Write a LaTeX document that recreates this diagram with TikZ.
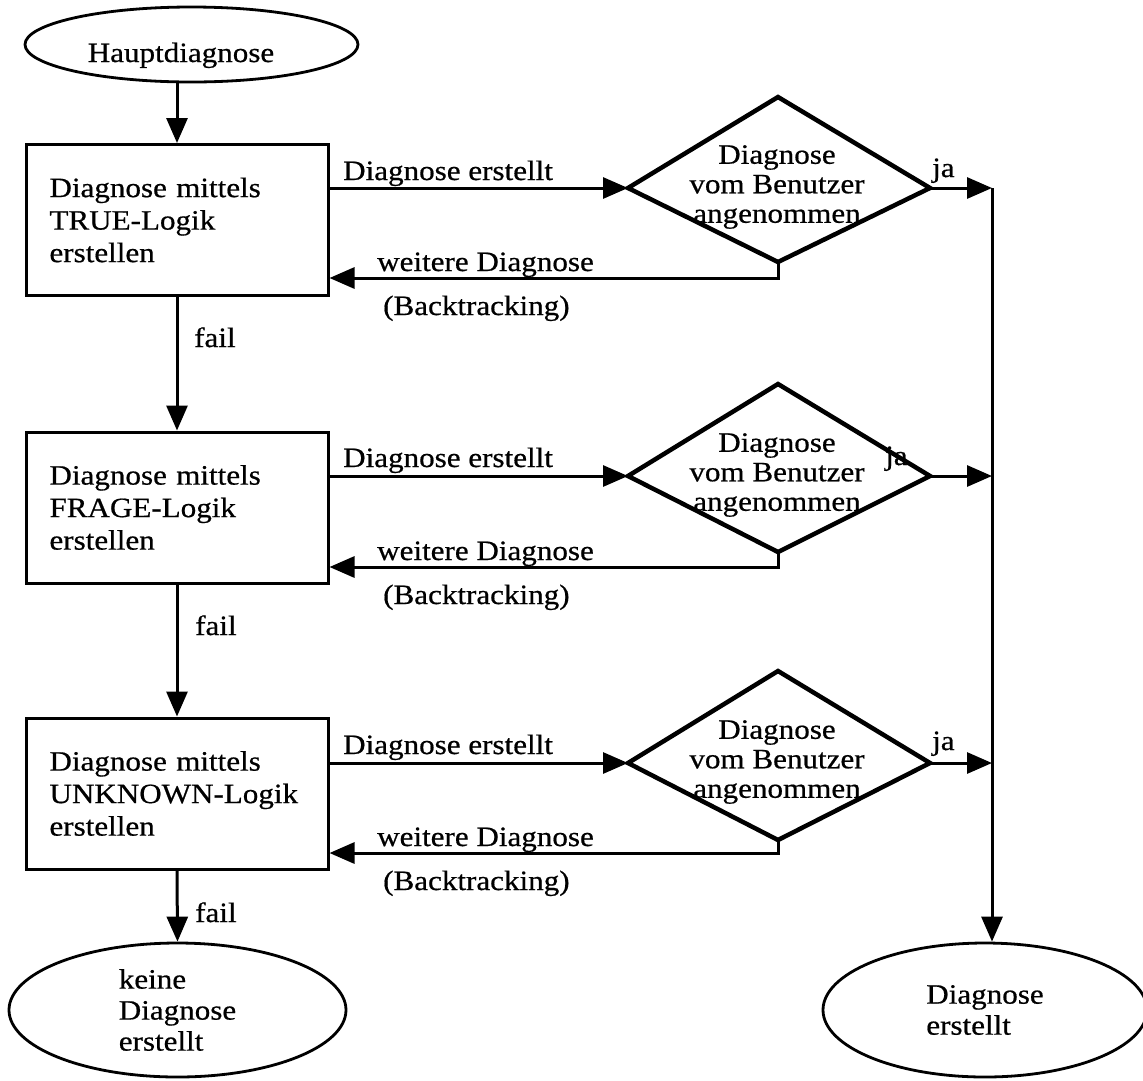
\documentclass[tikz,border=0pt]{standalone}
\usepackage{fontspec}
\setmainfont{Liberation Serif}[FakeStretch=1.11,FakeBold=0.6]
\usetikzlibrary{arrows.meta,shapes.geometric,calc}
\begin{document}
\begin{tikzpicture}[x=1pt,y=-1pt,
  every node/.style={font=\fontsize{28}{32.5}\selectfont},
  lw/.style={line width=3pt},
  arr/.style={line width=3pt,-{Triangle[length=25pt,width=21pt]}},
  box/.style={draw,line width=3pt,rectangle,minimum width=302pt,minimum height=151pt,text width=255pt,inner xsep=23.5pt,align=left},
  oval/.style={draw,ellipse,line width=2.8pt,inner sep=0pt},
  dia/.style={draw,line width=4.5pt,line join=miter},
  lbl/.style={anchor=base west,inner sep=0pt},
  dtext/.style={align=center,font=\fontsize{28}{29.5}\selectfont,inner sep=0pt}
]
\fill[white] (0,0) rectangle (1143,1080);
\useasboundingbox (0,0) rectangle (1143,1080);

% start
\node[oval,minimum width=333pt,minimum height=75pt,text height=41pt,text depth=6pt] (hd) at (191.5,44.5) {Hauptdiagnose\hspace*{21pt}};

% boxes
\node[box] (b1) at (177,220) {Diagnose mittels\\TRUE-Logik\\erstellen};
\node[box] (b2) at (177,507.5) {Diagnose mittels\\FRAGE-Logik\\erstellen};
\node[box] (b3) at (177,793.5) {Diagnose mittels\\UNKNOWN-Logik\\erstellen};

% diamonds
\coordinate (d1l) at (628,188); \coordinate (d1t) at (778,97);
\coordinate (d1r) at (930,188); \coordinate (d1b) at (778,262);
\draw[dia] (d1l) -- (d1t) -- (d1r) -- (d1b) -- cycle;
\node[dtext] (d1) at (777,187) {Diagnose\\vom Benutzer\\angenommen};

\coordinate (d2l) at (628,476); \coordinate (d2t) at (778,384);
\coordinate (d2r) at (930,476); \coordinate (d2b) at (778,552);
\draw[dia] (d2l) -- (d2t) -- (d2r) -- (d2b) -- cycle;
\node[dtext] (d2) at (777,475) {Diagnose\\vom Benutzer\\angenommen};

\coordinate (d3l) at (628,763); \coordinate (d3t) at (778,671);
\coordinate (d3r) at (930,763); \coordinate (d3b) at (778,840);
\draw[dia] (d3l) -- (d3t) -- (d3r) -- (d3b) -- cycle;
\node[dtext] (d3) at (777,762) {Diagnose\\vom Benutzer\\angenommen};

% end ellipses
\node[oval,minimum width=337pt,minimum height=134pt,align=left,font=\fontsize{28}{31}\selectfont] (kd) at (177.5,1010) {keine\\Diagnose\\erstellt};
\node[oval,minimum width=324pt,minimum height=134pt,align=left,font=\fontsize{28}{31}\selectfont] (de) at (985,1010) {Diagnose\\erstellt};

% helper coordinates
\coordinate (bt1) at (778,278);
\coordinate (bt2) at (778,567);
\coordinate (bt3) at (778,853);
\coordinate (vt) at (992,188);

% vertical flow
\draw[arr] (b1.north |- hd.south) -- (b1.north);
\draw[arr] (b1.south) -- (b2.north);
\draw[arr] (b2.south) -- (b3.north);
\draw[arr] (b3.south) -- (kd.north);

% box -> diamond
\draw[arr] (b1.east |- d1l) -- (d1l);
\draw[arr] (b2.east |- d2l) -- (d2l);
\draw[arr] (b3.east |- d3l) -- (d3l);

% backtracking
\draw[arr] (d1b) -- (bt1) -- (b1.east |- bt1);
\draw[arr] (d2b) -- (bt2) -- (b2.east |- bt2);
\draw[arr] (d3b) -- (bt3) -- (b3.east |- bt3);

% ja
\draw[arr] (d1r) -- (d1r -| vt);
\draw[arr] (d2r) -- (d2r -| vt);
\draw[arr] (d3r) -- (d3r -| vt);
\draw[arr] (vt) -- (vt |- de.north);

% labels
\node[lbl] (l1a) at (343,180) {Diagnose erstellt};
\node[lbl] (l1b) at (377,271) {weitere Diagnose};
\node[lbl] (l1c) at (383,315) {(Backtracking)};
\node[lbl] (f1) at (194,347) {fail};
\node[lbl] (j1) at (932,177) {ja};

\node[lbl] (l2a) at (343,467) {Diagnose erstellt};
\node[lbl] (l2b) at (377,560) {weitere Diagnose};
\node[lbl] (l2c) at (383,604) {(Backtracking)};
\node[lbl] (f2) at (195,635) {fail};
\node[lbl] (j2) at (885,465) {ja};

\node[lbl] (l3a) at (343,754) {Diagnose erstellt};
\node[lbl] (l3b) at (377,846) {weitere Diagnose};
\node[lbl] (l3c) at (383,890) {(Backtracking)};
\node[lbl] (f3) at (195,922) {fail};
\node[lbl] (j3) at (932,750) {ja};
\end{tikzpicture}
\end{document}
